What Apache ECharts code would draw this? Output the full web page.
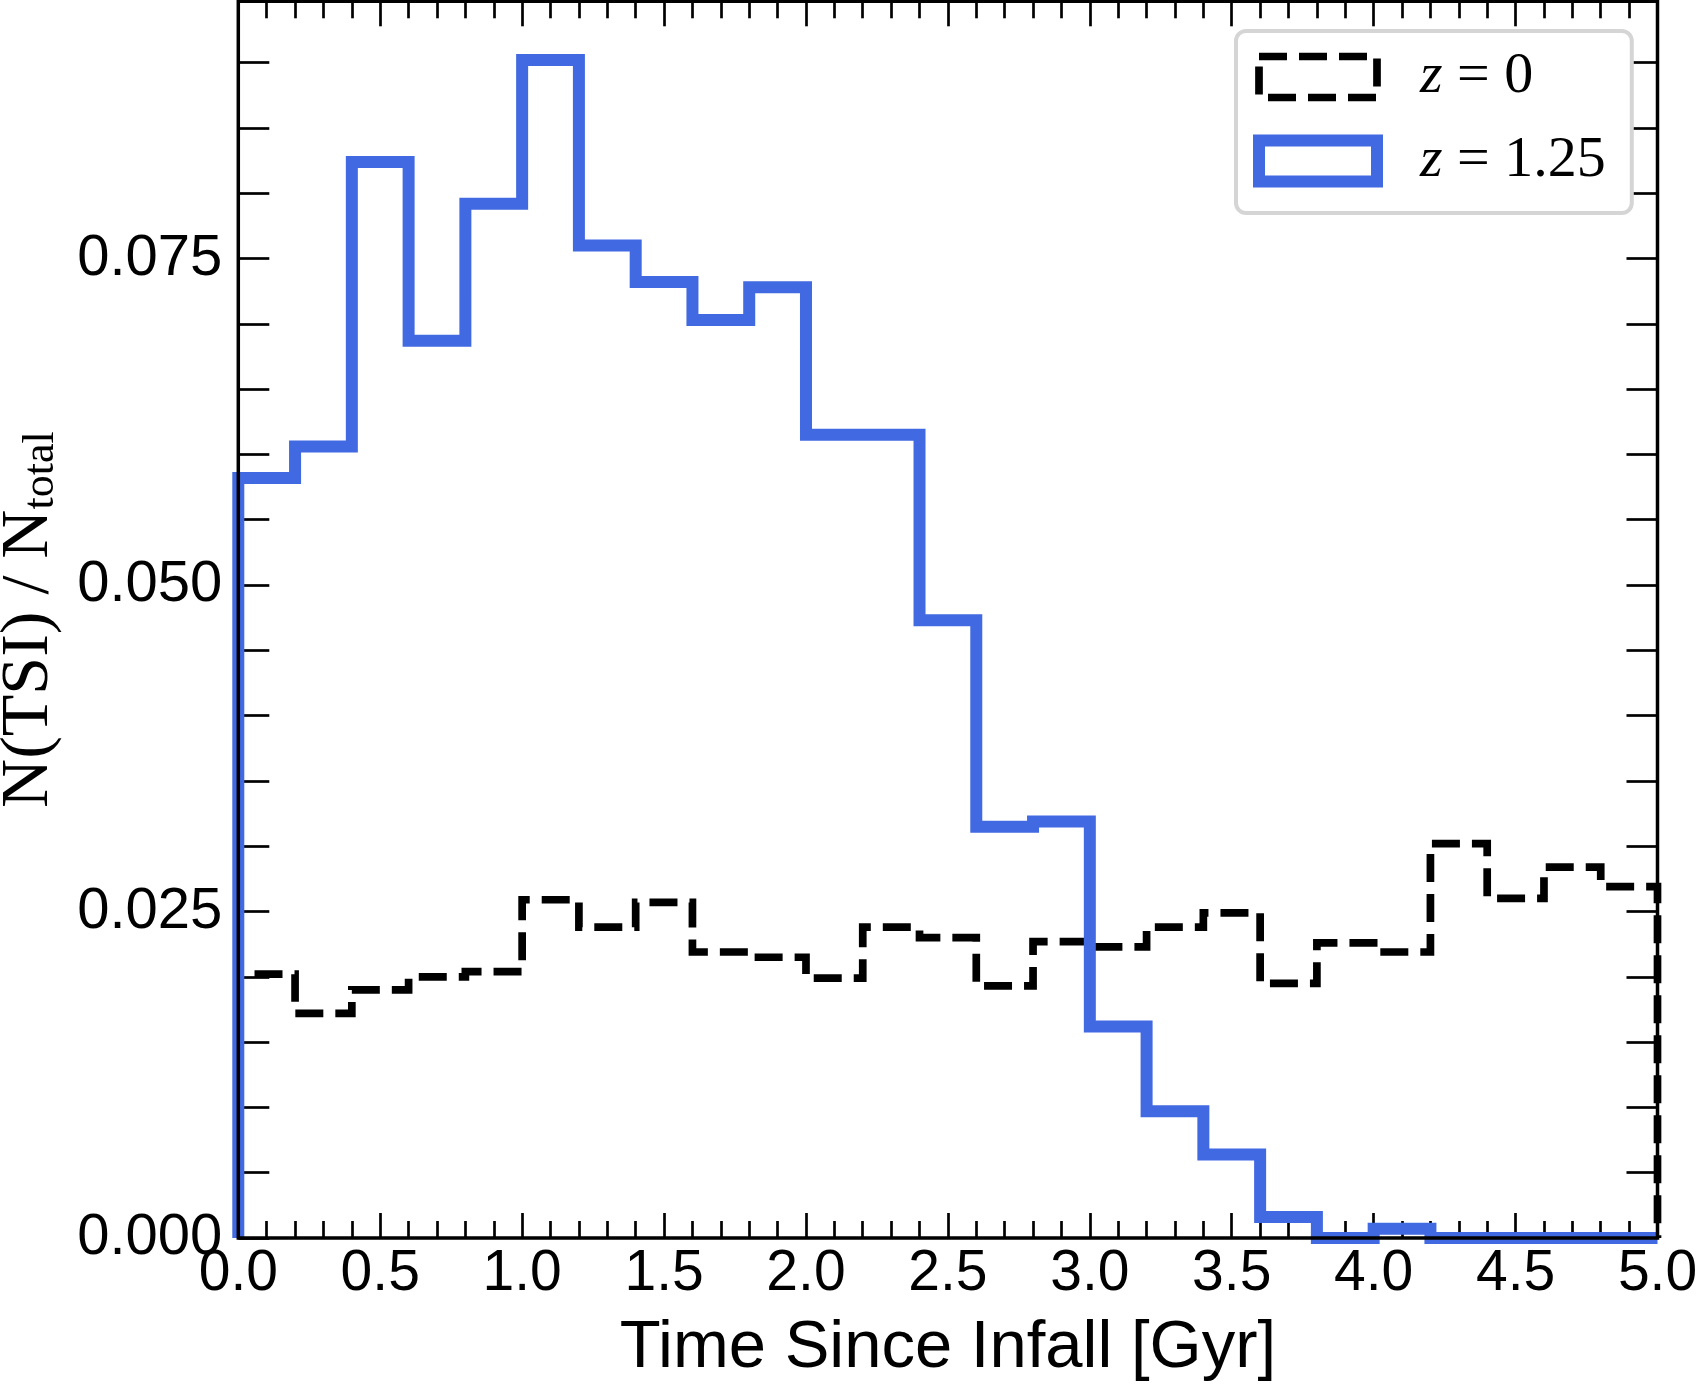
<!DOCTYPE html>
<html>
<head>
<meta charset="utf-8">
<script src="https://cdn.jsdelivr.net/npm/echarts@6/dist/echarts.min.js"></script>
<style>
html,body{margin:0;padding:0;background:#fff;}
#chart{width:1697px;height:1386px;}
</style>
</head>
<body>
<div id="chart"></div>
<script>
// Bin edges (Gyr)
var binEdges = [0.0,0.2,0.4,0.6,0.8,1.0,1.2,1.4,1.6,1.8,2.0,2.2,2.4,2.6,2.8,3.0,3.2,3.4,3.6,3.8,4.0,4.2,4.4,4.6,4.8,5.0];
// N(TSI)/N_total per bin
var z0Values = [0.0202,0.0172,0.0190,0.0200,0.0204,0.0259,0.0238,0.0257,0.0219,0.0215,0.0199,0.0238,0.0230,0.0193,0.0227,0.0223,0.0238,0.0249,0.0195,0.0226,0.0219,0.0302,0.0260,0.0284,0.0269];
var z125Values = [0.0582,0.0606,0.0824,0.0687,0.0792,0.0902,0.0760,0.0732,0.0703,0.0728,0.0615,0.0615,0.0473,0.0315,0.0319,0.0162,0.0097,0.0064,0.0016,0.0000,0.0007,0.0000,0.0000,0.0000,0.0000];
var seriesNames = ['z = 0', 'z = 1.25'];
var xTickLabels = ['0.0','0.5','1.0','1.5','2.0','2.5','3.0','3.5','4.0','4.5','5.0'];
var yTickLabels = ['0.000','0.025','0.050','0.075'];

function stepPath(edges, vals){
  var pts = [[edges[0], 0]];
  for (var i = 0; i < vals.length; i++){
    pts.push([edges[i], vals[i]]);
    pts.push([edges[i+1], vals[i]]);
  }
  pts.push([edges[edges.length-1], 0]);
  return pts;
}

var SANS = 'Liberation Sans, Arial, Helvetica, sans-serif';
var SERIF = 'Liberation Serif, Times New Roman, serif';

var chart = echarts.init(document.getElementById('chart'), null, {renderer:'canvas'});

var xCommon = {
  type:'value', min:0, max:5, interval:0.5,
  axisLine:{show:false, onZero:false},
  splitLine:{show:false},
  z:3
};
var yCommon = {
  type:'value', min:0, max:0.0947, interval:0.005,
  axisLine:{show:false, onZero:false},
  splitLine:{show:false},
  z:3
};

var option = {
  backgroundColor:'#fff',
  animation:false,
  grid:{left:238.3, right:39.5, top:1.3, bottom:148, containLabel:false, outerBoundsMode:'none',
        show:true, borderColor:'#000', borderWidth:3.5, backgroundColor:'transparent', z:10},
  xAxis:[
    Object.assign({}, xCommon, {
      position:'bottom',
      axisTick:{show:true, inside:true, length:25, lineStyle:{color:'#000', width:2.7}},
      minorTick:{show:true, splitNumber:5, length:17, lineStyle:{color:'#000', width:2.7}},
      axisLabel:{show:true, margin:8, color:'#000', fontFamily:SANS, fontSize:57,
        formatter:function(v){ var s=v.toFixed(1); return xTickLabels.indexOf(s)>=0?s:''; }},
      name:'Time Since Infall [Gyr]', nameLocation:'middle', nameGap:77,
      nameTextStyle:{color:'#000', fontFamily:SANS, fontSize:67}
    }),
    Object.assign({}, xCommon, {
      position:'top',
      axisTick:{show:true, inside:true, length:25, lineStyle:{color:'#000', width:2.7}},
      minorTick:{show:true, splitNumber:5, length:17, lineStyle:{color:'#000', width:2.7}},
      axisLabel:{show:false}
    })
  ],
  yAxis:[
    Object.assign({}, yCommon, {
      position:'left',
      axisTick:{show:true, inside:true, length:31, lineStyle:{color:'#000', width:2.7}},
      axisLabel:{show:true, margin:16, color:'#000', fontFamily:SANS, fontSize:58,
        formatter:function(v){ var s=v.toFixed(3); return yTickLabels.indexOf(s)>=0?s:''; }},
      name:'{m|N(TSI) / N}{s|total}', nameLocation:'middle', nameGap:175, nameRotate:90,
      nameTextStyle:{color:'#000', fontFamily:SERIF, fontSize:68,
        rich:{
          m:{fontFamily:SERIF, fontSize:68, lineHeight:68, color:'#000'},
          s:{fontFamily:SERIF, fontSize:44, lineHeight:35, verticalAlign:'bottom', color:'#000'}
        }}
    }),
    Object.assign({}, yCommon, {
      position:'right',
      axisTick:{show:true, inside:true, length:31, lineStyle:{color:'#000', width:2.7}},
      axisLabel:{show:false}
    })
  ],
  legend:{
    show:true, orient:'vertical', left:1236, top:31,
    padding:[17,26,23,17],
    itemWidth:118, itemHeight:41, itemGap:26,
    backgroundColor:'#fff', borderColor:'#d5d5d5', borderWidth:4, borderRadius:10,
    selectedMode:false,
    textStyle:{color:'#000', fontFamily:SERIF, fontSize:58, padding:[0,0,0,38],
      rich:{
        i:{fontFamily:SERIF, fontStyle:'italic', fontSize:58, color:'#000'},
        n:{fontFamily:SERIF, fontSize:58, color:'#000'}
      }},
    formatter:function(name){ var p=name.split(' = '); return '{i|'+p[0]+'}{n| = '+p[1]+'}'; },
    data:[
      {name:seriesNames[0], icon:'rect', itemStyle:{color:'rgba(0,0,0,0)', borderColor:'#000', borderWidth:7.7, borderType:[28,12]}},
      {name:seriesNames[1], icon:'rect', itemStyle:{color:'rgba(0,0,0,0)', borderColor:'#4169E1', borderWidth:12, borderType:'solid'}}
    ]
  },
  series:[
    {
      name:seriesNames[0], type:'line', xAxisIndex:0, yAxisIndex:0,
      data:stepPath(binEdges, z0Values),
      showSymbol:false, symbol:'none', clip:true, z:2,
      color:'#000',
      lineStyle:{color:'#000', width:7.7, type:[28,12], cap:'butt', join:'miter'}
    },
    {
      name:seriesNames[1], type:'line', xAxisIndex:0, yAxisIndex:0,
      data:stepPath(binEdges, z125Values),
      showSymbol:false, symbol:'none', clip:true, z:4,
      color:'#4169E1',
      lineStyle:{color:'#4169E1', width:12, type:'solid', cap:'butt', join:'miter'}
    }
  ]
};
chart.setOption(option);
</script>
</body>
</html>
